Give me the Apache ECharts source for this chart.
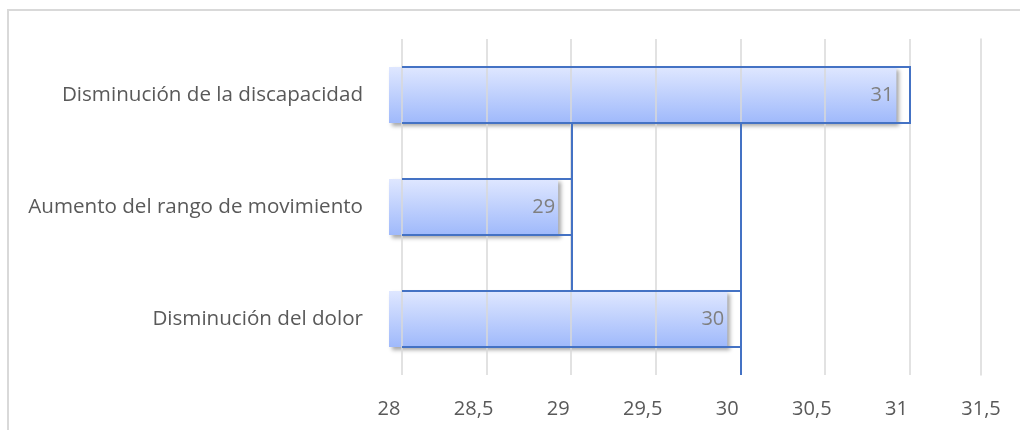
<!DOCTYPE html>
<html>
<head>
<meta charset="utf-8">
<title>Resultados</title>
<script src="https://cdn.jsdelivr.net/npm/echarts@6/dist/echarts.min.js"></script>
<style>
  html, body { margin: 0; padding: 0; background: #fff; }
  #chart { width: 1020px; height: 430px; }
</style>
</head>
<body>
<div id="chart"></div>
<script>
// Categories listed bottom to top, as the value axis reads them
const categories = [
  'Disminución del dolor',
  'Aumento del rango de movimiento',
  'Disminución de la discapacidad'
];
const values = [30, 29, 31];
const tickLabels = ['28', '28,5', '29', '29,5', '30', '30,5', '31', '31,5'];

const toNum = s => parseFloat(s.replace(',', '.'));
const axisMin = toNum(tickLabels[0]);
const axisMax = toNum(tickLabels[tickLabels.length - 1]);
const step = toNum(tickLabels[1]) - axisMin;
const fmt = v => tickLabels[Math.round((v - axisMin) / step)] || '';

const FONT = '"Open Sans"';
const TEXT = '#595959';
const GRID = '#d9d9d9';
const BLUE = '#4472c4';

const chart = echarts.init(document.getElementById('chart'));

// Blue outlines of the bars on the back plane, with their drop lines
function renderOutline(params, api) {
  const n = categories.length;
  const i = api.value(1);
  const v = api.value(0);
  const cs = params.coordSys;
  const h = api.size([0, 1])[1] * 0.5;
  const x0 = api.coord([axisMin, i])[0];
  const c = api.coord([v, i]);
  const top = Math.round(c[1] - h / 2);
  const bottom = Math.round(c[1] + h / 2);
  const xe = Math.round(c[0]) + 1;
  const topBarBottom = Math.round(api.coord([axisMin, n - 1])[1] + h / 2);
  let y1, y2;
  if (i === n - 1) {
    y1 = top; y2 = bottom;
  } else {
    y1 = topBarBottom;
    y2 = i > 0 ? Math.round(api.coord([axisMin, i - 1])[1] - h / 2) : cs.y + cs.height;
  }
  const style = { stroke: BLUE, lineWidth: 2, fill: null };
  return {
    type: 'group',
    children: [
      { type: 'line', shape: { x1: x0, y1: top, x2: xe + 1, y2: top }, style },
      { type: 'line', shape: { x1: x0, y1: bottom, x2: xe + 1, y2: bottom }, style },
      { type: 'line', shape: { x1: xe, y1: y1 - 1, x2: xe, y2: y2 }, style }
    ]
  };
}

chart.setOption({
  animation: false,
  backgroundColor: '#fff',
  textStyle: { fontFamily: FONT },
  graphic: [{
    type: 'rect',
    shape: { x: 8, y: 10, width: 1100, height: 500 },
    style: { fill: null, stroke: GRID, lineWidth: 2 },
    silent: true, z: -1
  }],
  grid: [
    { left: 402, top: 39, width: 592, height: 336 },
    { left: 389, top: 39, width: 592, height: 336 }
  ],
  xAxis: [{
    gridIndex: 0, type: 'value', min: axisMin, max: axisMax, interval: step,
    z: 3,
    axisLine: { show: false }, axisTick: { show: false }, axisLabel: { show: false },
    splitLine: { show: true, showMaxLine: false, lineStyle: { color: GRID, width: 1.5 } }
  }, {
    gridIndex: 1, type: 'value', min: axisMin, max: axisMax, interval: step,
    axisLine: { show: false }, axisTick: { show: false },
    splitLine: { show: false },
    axisLabel: { color: TEXT, fontSize: 20, fontFamily: FONT, margin: 24, formatter: fmt }
  }],
  yAxis: [{
    gridIndex: 0, type: 'category', data: categories,
    axisLine: { show: false }, axisTick: { show: false },
    axisLabel: { color: TEXT, fontSize: 20.6, fontFamily: FONT, margin: 39 }
  }, {
    gridIndex: 1, type: 'category', data: categories, position: 'right',
    axisLine: { show: true, lineStyle: { color: GRID, width: 1.5 } },
    axisTick: { show: false }, axisLabel: { show: false }
  }],
  series: [{
    type: 'bar',
    xAxisIndex: 1, yAxisIndex: 1,
    data: values,
    barWidth: '50%',
    z: 2,
    itemStyle: {
      color: new echarts.graphic.LinearGradient(0, 0, 0, 1, [
        { offset: 0, color: '#dfe7ff' },
        { offset: 1, color: '#9fb9fb' }
      ]),
      shadowColor: 'rgba(0,0,0,0.35)',
      shadowBlur: 4,
      shadowOffsetX: 3,
      shadowOffsetY: 3
    },
    label: {
      show: true, position: 'insideRight', distance: 3,
      color: '#7f7f7f', fontSize: 20, fontFamily: FONT
    }
  }, {
    type: 'custom',
    xAxisIndex: 0, yAxisIndex: 0,
    z: 10,
    data: values.map((v, i) => [v, i]),
    encode: { x: 0, y: 1 },
    renderItem: renderOutline
  }]
});
</script>
</body>
</html>
